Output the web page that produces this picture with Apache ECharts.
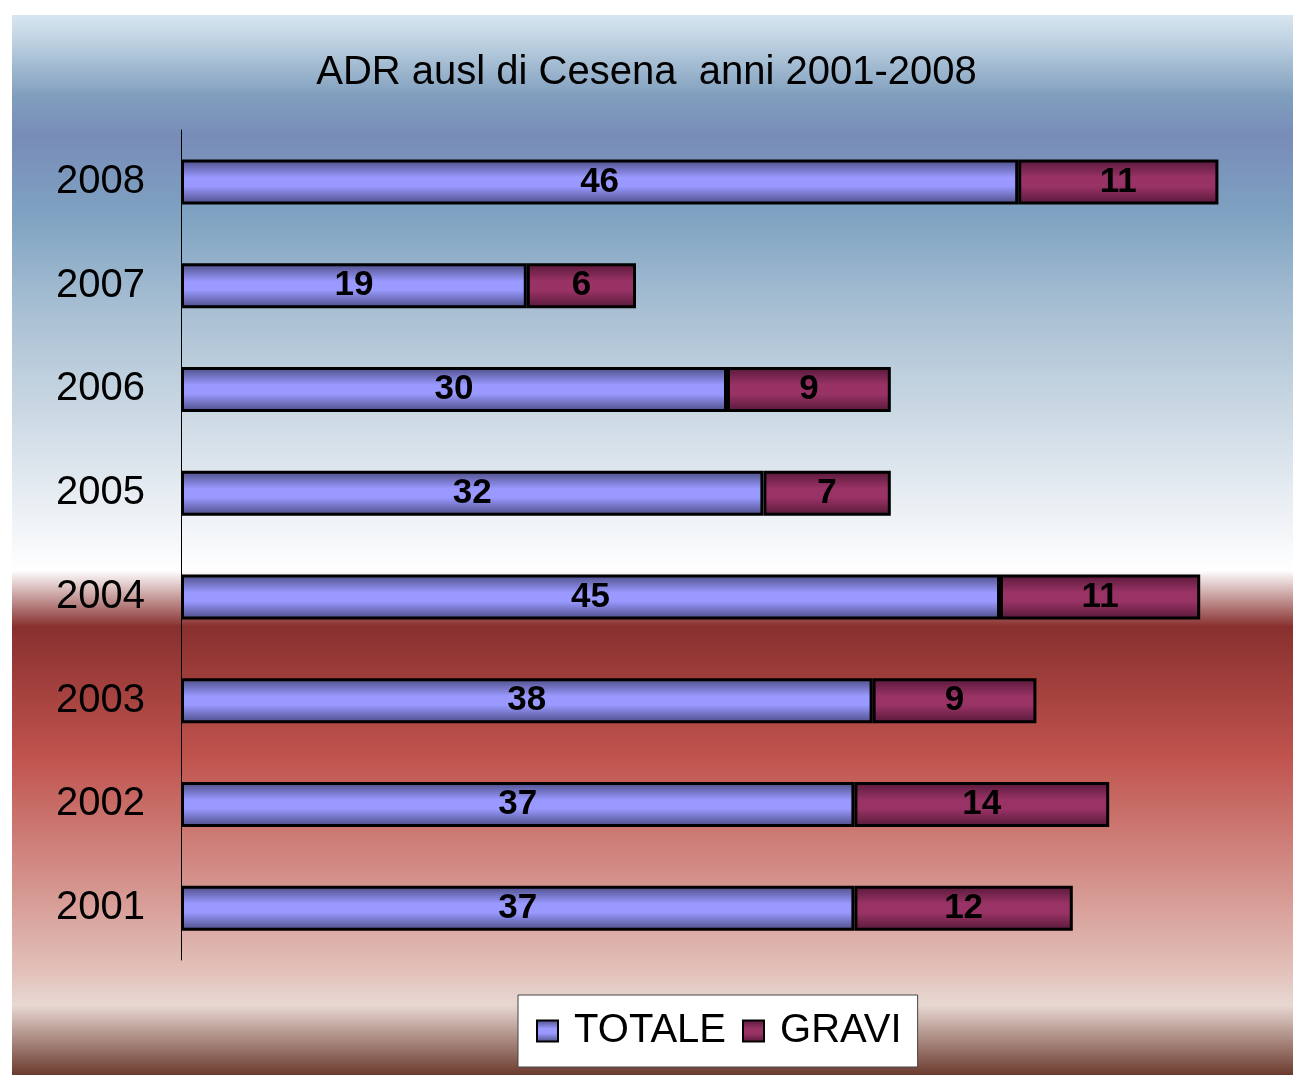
<!DOCTYPE html>
<html>
<head>
<meta charset="utf-8">
<script src="https://cdn.jsdelivr.net/npm/echarts@6/dist/echarts.min.js"></script>
<style>
  html, body { margin: 0; padding: 0; background: #ffffff; }
  #chart { width: 1293px; height: 1075px; }
</style>
</head>
<body>
<div id="chart"></div>
<script>
// dati
var anni = ['2001', '2002', '2003', '2004', '2005', '2006', '2007', '2008'];
var totale = [37, 37, 38, 45, 32, 30, 19, 46];
var gravi = [12, 14, 9, 11, 7, 9, 6, 11];
var nomiSerie = ['TOTALE', 'GRAVI'];

var chart = echarts.init(document.getElementById('chart'));

function barra(bordo, centro) {
    return new echarts.graphic.LinearGradient(0, 0, 0, 1, [
        { offset: 0, color: bordo },
        { offset: 0.4, color: centro },
        { offset: 0.6, color: centro },
        { offset: 1, color: bordo }
    ]);
}

var etichetta = {
    show: true,
    position: 'inside',
    color: '#000000',
    fontFamily: 'Liberation Sans',
    fontWeight: 'bold',
    fontSize: 35
};

var option = {
    animation: false,
    graphic: [{
        type: 'rect',
        z: -10,
        silent: true,
        shape: { x: 12, y: 15, width: 1281, height: 1060 },
        style: {
            fill: new echarts.graphic.LinearGradient(0, 0, 0, 1, [
                { offset: 0, color: '#d8e6f0' },
                { offset: 0.024, color: '#bfd2e2' },
                { offset: 0.077, color: '#7f9ebd' },
                { offset: 0.115, color: '#788cb8' },
                { offset: 0.19, color: '#7fa3c2' },
                { offset: 0.278, color: '#a8bfd3' },
                { offset: 0.373, color: '#cad8e3' },
                { offset: 0.451, color: '#e6ecf2' },
                { offset: 0.524, color: '#ffffff' },
                { offset: 0.577, color: '#88302e' },
                { offset: 0.70, color: '#c0534e' },
                { offset: 0.81, color: '#d38e88' },
                { offset: 0.904, color: '#e2c2bb' },
                { offset: 0.934, color: '#e8d8d2' },
                { offset: 1, color: '#6b3a2e' }
            ])
        }
    }],
    title: {
        text: 'ADR ausl di Cesena  anni 2001-2008',
        left: 'center',
        top: 48,
        textStyle: {
            fontFamily: 'Liberation Sans',
            fontWeight: 'normal',
            fontSize: 40,
            color: '#000000'
        }
    },
    legend: {
        data: nomiSerie,
        left: 518,
        top: 995,
        backgroundColor: '#ffffff',
        borderColor: '#444444',
        borderWidth: 1,
        padding: [16, 16, 16, 18],
        itemWidth: 21,
        itemHeight: 21,
        itemGap: 16,
        icon: 'rect',
        formatter: function (n) { return ' ' + n; },
        textStyle: {
            fontFamily: 'Liberation Sans',
            fontSize: 40,
            color: '#000000'
        }
    },
    grid: {
        left: 181,
        top: 130,
        width: 1092,
        height: 830
    },
    xAxis: {
        type: 'value',
        min: 0,
        max: 60,
        show: false
    },
    yAxis: {
        type: 'category',
        data: anni,
        axisLine: { show: true, lineStyle: { color: '#000000', width: 1 } },
        axisTick: { show: false },
        axisLabel: {
            margin: 36,
            fontFamily: 'Liberation Sans',
            fontSize: 40,
            color: '#000000'
        }
    },
    series: [{
        name: nomiSerie[0],
        type: 'bar',
        stack: 'tot',
        barWidth: 45,
        data: totale,
        itemStyle: {
            color: barra('#4a4a82', '#9999ff'),
            borderColor: '#000000',
            borderWidth: 3
        },
        label: etichetta
    }, {
        name: nomiSerie[1],
        type: 'bar',
        stack: 'tot',
        barWidth: 45,
        data: gravi,
        itemStyle: {
            color: barra('#561838', '#993366'),
            borderColor: '#000000',
            borderWidth: 3
        },
        label: etichetta
    }]
};

chart.setOption(option);
</script>
</body>
</html>
